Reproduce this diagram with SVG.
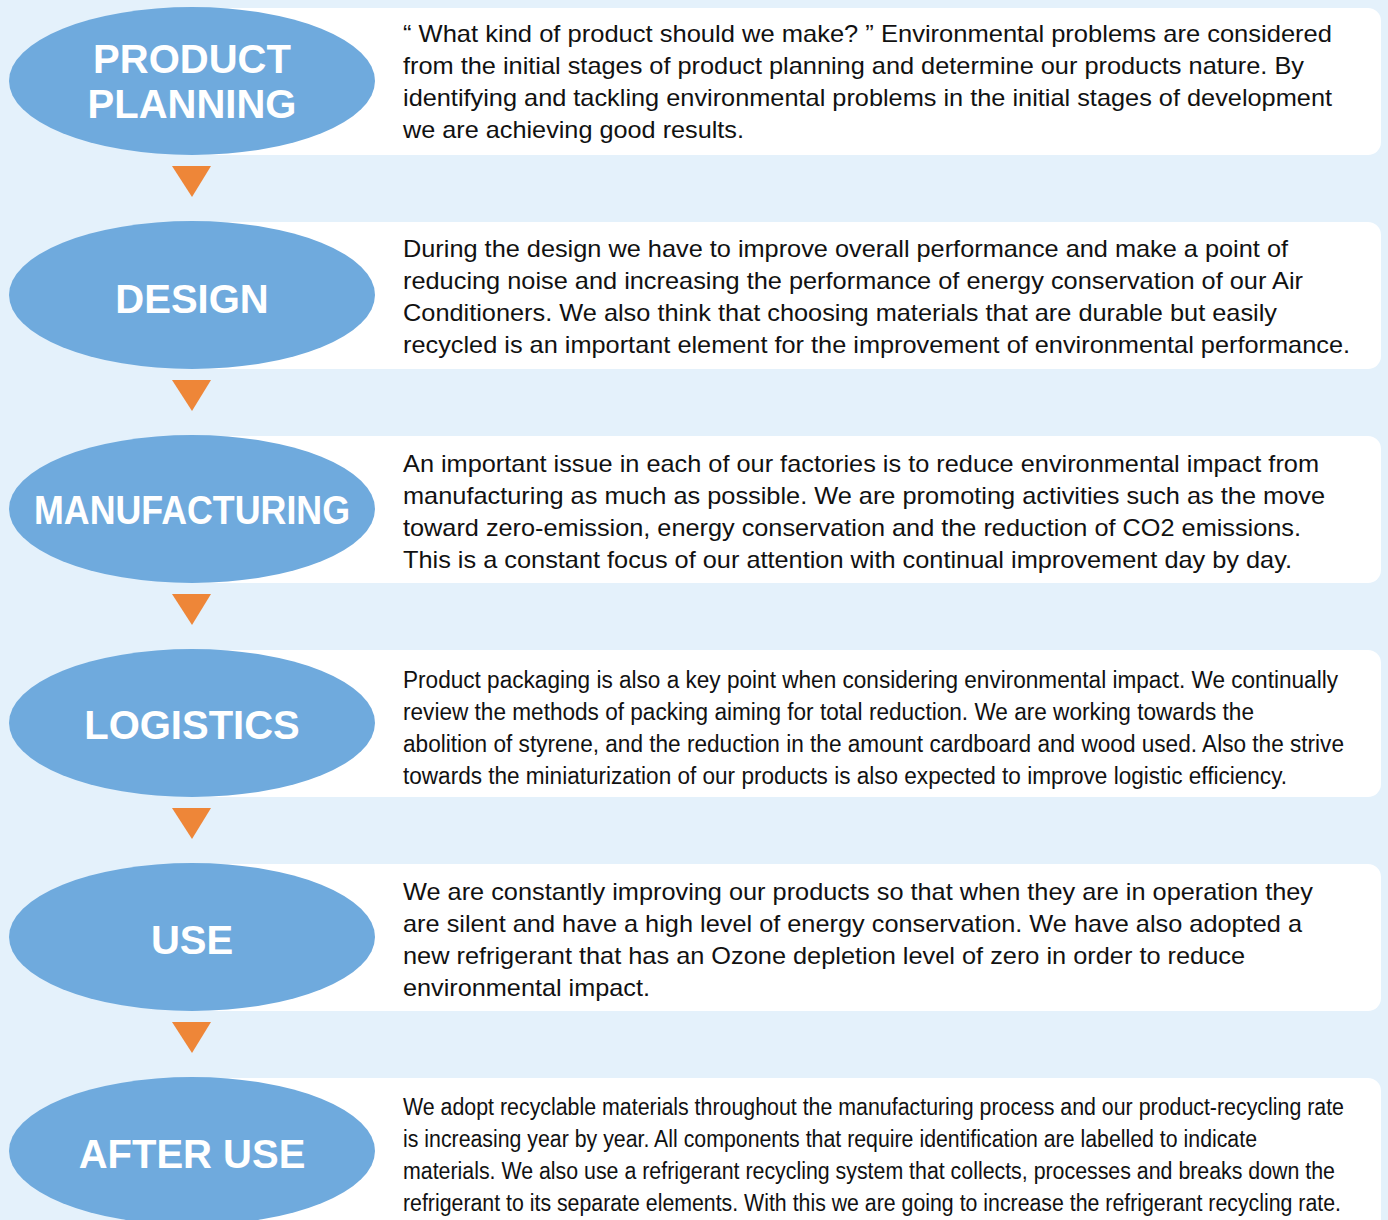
<svg xmlns="http://www.w3.org/2000/svg" width="1388" height="1220" viewBox="0 0 1388 1220">
  <style>
    .card { fill: #ffffff; }
    .stage { fill: #6FAADD; }
    .label { font-family: "Liberation Sans", Arial, sans-serif; font-weight: bold; font-size: 40px; fill: #ffffff; text-anchor: middle; }
    .body { font-family: "Liberation Sans", Arial, sans-serif; font-size: 24px; fill: #111111; }
    .narrow { font-family: "Liberation Sans", Arial, sans-serif; font-size: 23.5px; fill: #111111; }
    .step { fill: #EE8638; }
  </style>
  <defs>
    <polygon id="down" points="172,0 211,0 192,31"/>
  </defs>
  <rect x="0" y="0" width="1388" height="1220" fill="#E4F1FB"/>

  <!-- arrows between the stages -->
  <g id="connectors">
    <use href="#down" class="step" y="166"/>
    <use href="#down" class="step" y="380"/>
    <use href="#down" class="step" y="594"/>
    <use href="#down" class="step" y="808"/>
    <use href="#down" class="step" y="1022"/>
  </g>

  <g id="product-planning">
    <rect class="card" x="190" y="8" width="1191" height="147" rx="13"/>
    <ellipse class="stage" cx="192" cy="81" rx="183" ry="74"/>
    <text class="label" x="192" y="73">PRODUCT</text>
    <text class="label" x="192" y="118">PLANNING</text>
    <text class="body" x="403" y="42" textLength="929" lengthAdjust="spacingAndGlyphs">“ What kind of product should we make? ” Environmental problems are considered</text>
    <text class="body" x="403" y="74" textLength="901" lengthAdjust="spacingAndGlyphs">from the initial stages of product planning and determine our products nature. By</text>
    <text class="body" x="403" y="106" textLength="929" lengthAdjust="spacingAndGlyphs">identifying and tackling environmental problems in the initial stages of development</text>
    <text class="body" x="403" y="138" textLength="341" lengthAdjust="spacingAndGlyphs">we are achieving good results.</text>
  </g>

  <g id="design">
    <rect class="card" x="190" y="222" width="1191" height="147" rx="13"/>
    <ellipse class="stage" cx="192" cy="295" rx="183" ry="74"/>
    <text class="label" x="192" y="313">DESIGN</text>
    <text class="body" x="403" y="257" textLength="885" lengthAdjust="spacingAndGlyphs">During the design we have to improve overall performance and make a point of</text>
    <text class="body" x="403" y="289" textLength="900" lengthAdjust="spacingAndGlyphs">reducing noise and increasing the performance of energy conservation of our Air</text>
    <text class="body" x="403" y="321" textLength="874" lengthAdjust="spacingAndGlyphs">Conditioners. We also think that choosing materials that are durable but easily</text>
    <text class="body" x="403" y="353" textLength="947" lengthAdjust="spacingAndGlyphs">recycled is an important element for the improvement of environmental performance.</text>
  </g>

  <g id="manufacturing">
    <rect class="card" x="190" y="436" width="1191" height="147" rx="13"/>
    <ellipse class="stage" cx="192" cy="509" rx="183" ry="74"/>
    <text class="label" x="192" y="524" textLength="316" lengthAdjust="spacingAndGlyphs">MANUFACTURING</text>
    <text class="body" x="403" y="472" textLength="916" lengthAdjust="spacingAndGlyphs">An important issue in each of our factories is to reduce environmental impact from</text>
    <text class="body" x="403" y="504" textLength="922" lengthAdjust="spacingAndGlyphs">manufacturing as much as possible. We are promoting activities such as the move</text>
    <text class="body" x="403" y="536" textLength="898" lengthAdjust="spacingAndGlyphs">toward zero-emission, energy conservation and the reduction of CO2 emissions.</text>
    <text class="body" x="403" y="568" textLength="889" lengthAdjust="spacingAndGlyphs">This is a constant focus of our attention with continual improvement day by day.</text>
  </g>

  <g id="logistics">
    <rect class="card" x="190" y="650" width="1191" height="147" rx="13"/>
    <ellipse class="stage" cx="192" cy="723" rx="183" ry="74"/>
    <text class="label" x="192" y="739">LOGISTICS</text>
    <text class="narrow" x="403" y="688" textLength="935" lengthAdjust="spacingAndGlyphs">Product packaging is also a key point when considering environmental impact. We continually</text>
    <text class="narrow" x="403" y="720" textLength="851" lengthAdjust="spacingAndGlyphs">review the methods of packing aiming for total reduction. We are working towards the</text>
    <text class="narrow" x="403" y="752" textLength="941" lengthAdjust="spacingAndGlyphs">abolition of styrene, and the reduction in the amount cardboard and wood used. Also the strive</text>
    <text class="narrow" x="403" y="784" textLength="884" lengthAdjust="spacingAndGlyphs">towards the miniaturization of our products is also expected to improve logistic efficiency.</text>
  </g>

  <g id="use">
    <rect class="card" x="190" y="864" width="1191" height="147" rx="13"/>
    <ellipse class="stage" cx="192" cy="937" rx="183" ry="74"/>
    <text class="label" x="192" y="954">USE</text>
    <text class="body" x="403" y="900" textLength="910" lengthAdjust="spacingAndGlyphs">We are constantly improving our products so that when they are in operation they</text>
    <text class="body" x="403" y="932" textLength="899" lengthAdjust="spacingAndGlyphs">are silent and have a high level of energy conservation. We have also adopted a</text>
    <text class="body" x="403" y="964" textLength="842" lengthAdjust="spacingAndGlyphs">new refrigerant that has an Ozone depletion level of zero in order to reduce</text>
    <text class="body" x="403" y="996" textLength="247" lengthAdjust="spacingAndGlyphs">environmental impact.</text>
  </g>

  <g id="after-use">
    <rect class="card" x="190" y="1078" width="1191" height="160" rx="13"/>
    <ellipse class="stage" cx="192" cy="1151" rx="183" ry="74"/>
    <text class="label" x="192" y="1168">AFTER USE</text>
    <text class="narrow" x="403" y="1115" textLength="941" lengthAdjust="spacingAndGlyphs">We adopt recyclable materials throughout the manufacturing process and our product-recycling rate</text>
    <text class="narrow" x="403" y="1147" textLength="854" lengthAdjust="spacingAndGlyphs">is increasing year by year. All components that require identification are labelled to indicate</text>
    <text class="narrow" x="403" y="1179" textLength="932" lengthAdjust="spacingAndGlyphs">materials. We also use a refrigerant recycling system that collects, processes and breaks down the</text>
    <text class="narrow" x="403" y="1211" textLength="938" lengthAdjust="spacingAndGlyphs">refrigerant to its separate elements. With this we are going to increase the refrigerant recycling rate.</text>
  </g>
</svg>
